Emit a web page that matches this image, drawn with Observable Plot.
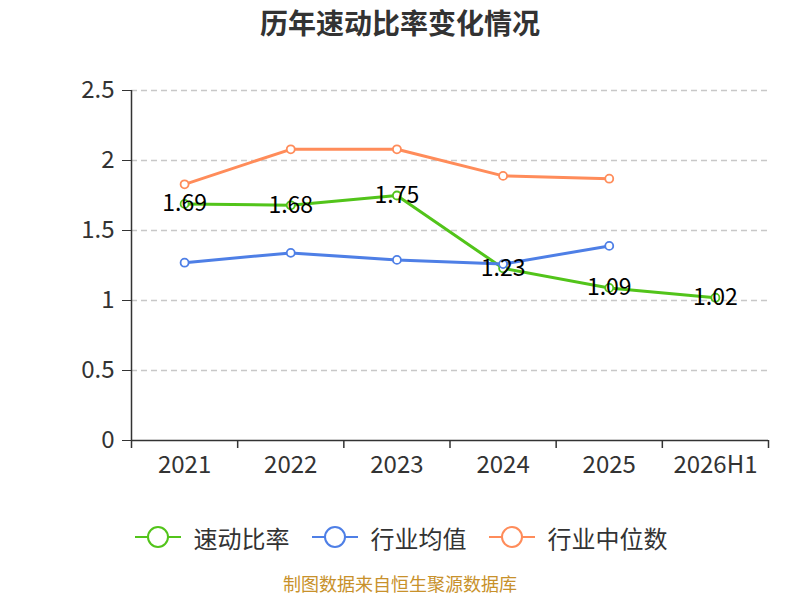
<!DOCTYPE html>
<html><head><meta charset="utf-8">
<script src="https://cdn.jsdelivr.net/npm/d3@7"></script>
<script src="https://cdn.jsdelivr.net/npm/@observablehq/plot@0.6"></script>
<style>
body{margin:0;background:#fff;font-family:"Noto Sans CJK SC","Noto Sans",sans-serif;}
#wrap{width:800px;height:600px;position:relative;}
#title{height:50px;line-height:44px;text-align:center;font-size:28px;font-weight:bold;color:#333;}
#chart svg{display:block;}
#legend{display:flex;justify-content:center;gap:22px;margin-top:42px;height:30px;font-size:24px;color:#333;align-items:center;margin-left:2px;}
.item{display:flex;align-items:center;gap:13px;}
#caption{position:absolute;left:0;right:0;bottom:3px;text-align:center;color:#c8912b;font-size:18px;line-height:27px;}
</style></head>
<body><div id="wrap">
<div id="title">历年速动比率变化情况</div>
<div id="chart"></div>
<div id="legend"></div>
<div id="caption">制图数据来自恒生聚源数据库</div>
</div>
<script>
const categories = ["2021","2022","2023","2024","2025","2026H1"];
const quickRatio = [1.69,1.68,1.75,1.23,1.09,1.02];
const industryMean = [1.27,1.34,1.29,1.26,1.39];
const industryMedian = [1.83,2.08,2.08,1.89,1.87];
const seriesNames = ["速动比率","行业均值","行业中位数"];
const colors = ["#52c41a","#4e7fe6","#ff8c5a"];
const yTicks = [0,0.5,1,1.5,2,2.5];

const rows = [];
[quickRatio, industryMean, industryMedian].forEach((arr, s) => {
  arr.forEach((v, i) => rows.push({i, v, s: seriesNames[s]}));
});
const idx = categories.map((_, i) => i);
const edges = [...idx.map(i => i - 0.5), categories.length - 0.5];
const font = '"Noto Sans CJK SC","Noto Sans",sans-serif';

const chart = Plot.plot({
  width: 800, height: 430,
  marginLeft: 131, marginRight: 32, marginTop: 40, marginBottom: 40,
  style: {fontFamily: font, fontSize: "24px", color: "#333", background: "#fff"},
  x: {type: "linear", domain: [-0.5, categories.length - 0.5], axis: null},
  y: {domain: [0, 2.5], axis: null},
  color: {domain: seriesNames, range: colors},
  marks: [
    Plot.ruleY(yTicks.filter(t => t > 0), {stroke: "#c8c8c8", strokeWidth: 1.5, strokeDasharray: "6,4"}),
    Plot.axisY({ticks: yTicks, tickSize: 9, tickPadding: 8, tickFormat: d => String(d), stroke: "#333", fill: "#333", fontSize: 24, label: null}),
    Plot.ruleX([-0.5], {stroke: "#333", strokeWidth: 1.5}),
    Plot.ruleY([0], {stroke: "#333", strokeWidth: 1.5}),
    Plot.axisX({ticks: edges, tickSize: 8, tickFormat: () => "", stroke: "#333", strokeWidth: 1.5, label: null}),
    Plot.axisX({ticks: idx, tickSize: 0, tickPadding: 15, tickFormat: i => categories[i], fill: "#333", fontSize: 24, label: null}),
    Plot.line(rows, {x: "i", y: "v", z: "s", stroke: "s", strokeWidth: 3}),
    Plot.dot(rows, {x: "i", y: "v", stroke: "s", fill: "white", r: 4, strokeWidth: 1.8}),
    Plot.text(quickRatio.map((v, i) => ({i, v})), {x: "i", y: "v", text: d => d.v.toFixed(2), fill: "#000", fontSize: 23, stroke: "none"})
  ]
});
document.getElementById("chart").appendChild(chart);

const leg = document.getElementById("legend");
seriesNames.forEach((n, k) => {
  const it = document.createElement("div");
  it.className = "item";
  it.innerHTML = `<svg width="46" height="24"><line x1="0" y1="12" x2="46" y2="12" stroke="${colors[k]}" stroke-width="2"/><circle cx="23" cy="12" r="10" fill="white" stroke="${colors[k]}" stroke-width="2"/></svg><span>${n}</span>`;
  leg.appendChild(it);
});
</script></body></html>
